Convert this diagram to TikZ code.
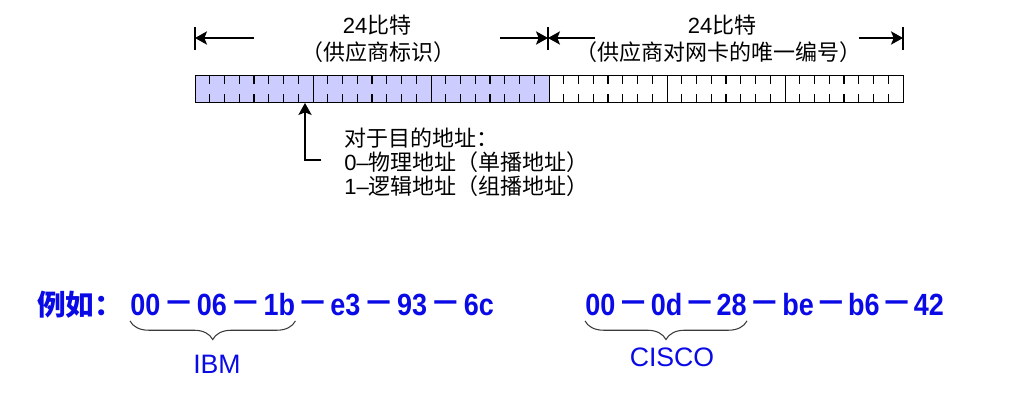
\documentclass[tikz,border=0pt]{standalone}
\usepackage{fontspec}
\setmainfont{Liberation Sans}
\newfontfamily\cjk{Noto Sans CJK SC}
\newfontfamily\addrfont[FakeStretch=0.88]{Liberation Sans}
\usepackage{tikz}
\usetikzlibrary{positioning,arrows.meta,calc,decorations.pathreplacing}
\definecolor{mblue}{HTML}{0A0AE6}
\definecolor{mfill}{HTML}{CCCCFF}
\definecolor{mgray}{HTML}{3A3A3A}
\newcommand{\macsep}{\raisebox{2.6pt}{\scalebox{0.82}[1.1]{—}}}

\begin{document}
\begin{tikzpicture}[x=0.75pt, y=-0.75pt,
  byte/.style={rectangle, draw, line width=1pt, inner sep=0pt,
    minimum width=88.5pt, minimum height=20.25pt},
  tick/.style={line width=0.8pt},
  dimarr/.style={-{Stealth[length=9pt,width=10pt,inset=2pt]}, line width=0.9pt},
  toplbl/.style={font=\fontsize{16.5pt}{18pt}\selectfont, inner sep=0pt},
  note/.style={font=\fontsize{16.5pt}{18pt}\selectfont, align=left, inner sep=0pt},
  addr/.style={font=\fontsize{23pt}{26pt}\addrfont\bfseries, text=mblue, inner sep=0pt},
  lbl/.style={font=\fontsize{20pt}{24pt}\selectfont, text=mblue, inner sep=0pt},
  brc/.style={decorate, decoration={brace, mirror, amplitude=14pt}, line width=0.8pt, mgray}
]
\useasboundingbox (0,0) rectangle (1017,403);

% the six bytes of the address
\foreach \i/\c in {0/mfill,1/mfill,2/mfill,3/white,4/white,5/white} {
  \node[byte, fill=\c, anchor=north west] (byte\i) at ({195+118*\i},75) {};
  \foreach \k in {1,...,7} {
    \draw[tick] ($(byte\i.north west)+({14.75*\k},0)$) -- ++(0,9);
    \draw[tick] ($(byte\i.south west)+({14.75*\k},0)$) -- ++(0,-9);
  }
}

% dimension marks
\coordinate (m0) at (195,38);
\coordinate (m1) at (548,38);
\coordinate (m2) at (903,38);
\foreach \m in {m0,m1,m2}
  \draw[line width=0.9pt] ($(\m)+(0,-11)$) -- ($(\m)+(0,12)$);
\coordinate (t1) at (254,38);
\coordinate (t2) at (500,38);
\coordinate (t3) at (595,38);
\coordinate (t4) at (859,38);
\draw[dimarr] (t1) -- (m0);
\draw[dimarr] (t2) -- (m1);
\draw[dimarr] (t3) -- (m1);
\draw[dimarr] (t4) -- (m2);

\node[toplbl] (len1) at (377,25) {24{\cjk 比特}};
\node[toplbl] (oui) at (378,52) {\cjk （供应商标识）};
\node[toplbl] (len2) at (722,25) {24{\cjk 比特}};
\node[toplbl] (nic) at (718,52) {\cjk （供应商对网卡的唯一编号）};

% I/G bit
\node[note, anchor=west] (note) at (344,162)
  {{\cjk 对于目的地址：}\\0–{\cjk 物理地址（单播地址）}\\1–{\cjk 逻辑地址（组播地址）}};
\coordinate (igbit) at (305,103);
\draw[dimarr] ([xshift=-17pt, yshift=1.5pt]note.west) -| (igbit);

% examples
\node[addr, anchor=base west] (eg) at (37,315) {\fontsize{21.5pt}{26pt}\cjk\bfseries 例如：};
\foreach \t [count=\i] in {00,06,1b,e3,93,6c}
  \node[addr, anchor=base west] (ibm\i) at ({130+66.7*(\i-1)},315) {\t};
\foreach \t [count=\i] in {00,0d,28,be,b6,42}
  \node[addr, anchor=base west] (cis\i) at ({585+65.7*(\i-1)},315) {\t};
\foreach \i in {1,...,5} {
  \pgfmathtruncatemacro\j{\i+1}
  \node[addr, anchor=base] (ibmd\i) at ($(ibm\i.base east)!0.5!(ibm\j.base west)$) {\macsep};
  \node[addr, anchor=base] (cisd\i) at ($(cis\i.base east)!0.5!(cis\j.base west)$) {\macsep};
}

\draw[brc] ([yshift=-4pt]ibm1.south west) -- ([yshift=-4pt]ibm3.south east);
\draw[brc] ([yshift=-4pt]cis1.south west) -- ([yshift=-4pt]cis3.south east);
\node[lbl] (ibm) at (217,364) {IBM};
\node[lbl] (cisco) at (672,357) {CISCO};
\end{tikzpicture}
\end{document}
